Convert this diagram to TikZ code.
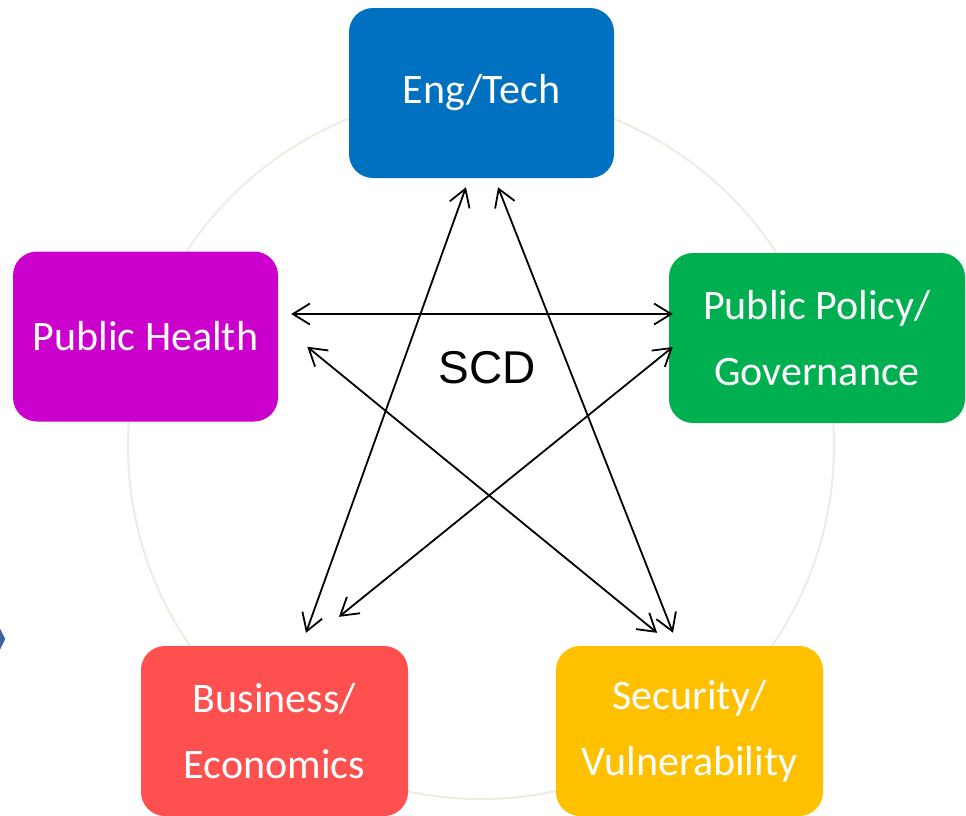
\documentclass[tikz,border=0pt]{standalone}
\usepackage{fontspec}
\setmainfont{Carlito}
\newfontfamily\scdfont{Liberation Sans}
\usepackage{tikz}
\usetikzlibrary{arrows.meta}

\definecolor{engblue}{HTML}{0070C0}
\definecolor{healthpink}{HTML}{CC00CC}
\definecolor{policygreen}{HTML}{00B050}
\definecolor{bizred}{HTML}{FF5050}
\definecolor{secgold}{HTML}{FFC000}
\definecolor{ringgrey}{HTML}{EEECE1}
\definecolor{tabblue}{HTML}{3C64A0}

\begin{document}
\begin{tikzpicture}[x=1pt, y=-1pt,
		box/.style={rounded corners=24pt, minimum width=265pt, minimum height=170pt, inner sep=0pt,
			text=white, align=center, font=\fontsize{42}{66}\selectfont},
		link/.style={{Straight Barb[length=17pt,width=21pt]}-{Straight Barb[length=17pt,width=21pt]}, line width=1.8pt}]
		\useasboundingbox (0, 0) rectangle (966, 815);
		% ring behind the boxes
		\draw[ringgrey, line width=2pt] (481, 446) circle (353);
		\filldraw[tabblue] (0, 629) -- (5, 639) -- (0, 649) -- cycle;
		% the five fields
		\node[box, fill = engblue] (eng) at (481.5, 93) {Eng/Tech};
		\node[box, fill = healthpink] (health) at (145.5, 336.5) {Public Health};
		\node[box, fill = policygreen, minimum width=296pt] (policy) at (817, 338) {Public Policy/\\Governance};
		\node[box, fill = bizred, minimum width=267pt] (biz) at (274.5, 731) {Business/\\Economics};
		\node[box, fill = secgold, minimum width=267pt] (sec) at (689.5, 731) {Security/\\Vulnerability};
		\node[font=\scdfont\fontsize{46}{50}\selectfont] (scd) at (487, 368) {SCD};
		% links
		\draw[link, shorten <=13pt, shorten >=-4pt] ([yshift=22.5pt]health.east) -- ([yshift=22.5pt]health.east -| policy.west);
		\draw[link, shorten <=37.5pt, shorten >=20.5pt] ([yshift=13.5pt]health.east) -- ([xshift=-16.5pt]sec.north);
		\draw[link, shorten <=9.6pt, shorten >=13.8pt] ([xshift=-12.3pt]eng.south) -- ([xshift=26.8pt]biz.north);
		\draw[link, shorten <=9.7pt, shorten >=14pt] ([xshift=13pt]eng.south) -- ([xshift=-11.4pt]sec.north);
		\draw[link, shorten <=-5.1pt, shorten >=46.1pt] ([yshift=-12.2pt]policy.west) -- ([xshift=28.6pt]biz.north);
\end{tikzpicture}
\end{document}
